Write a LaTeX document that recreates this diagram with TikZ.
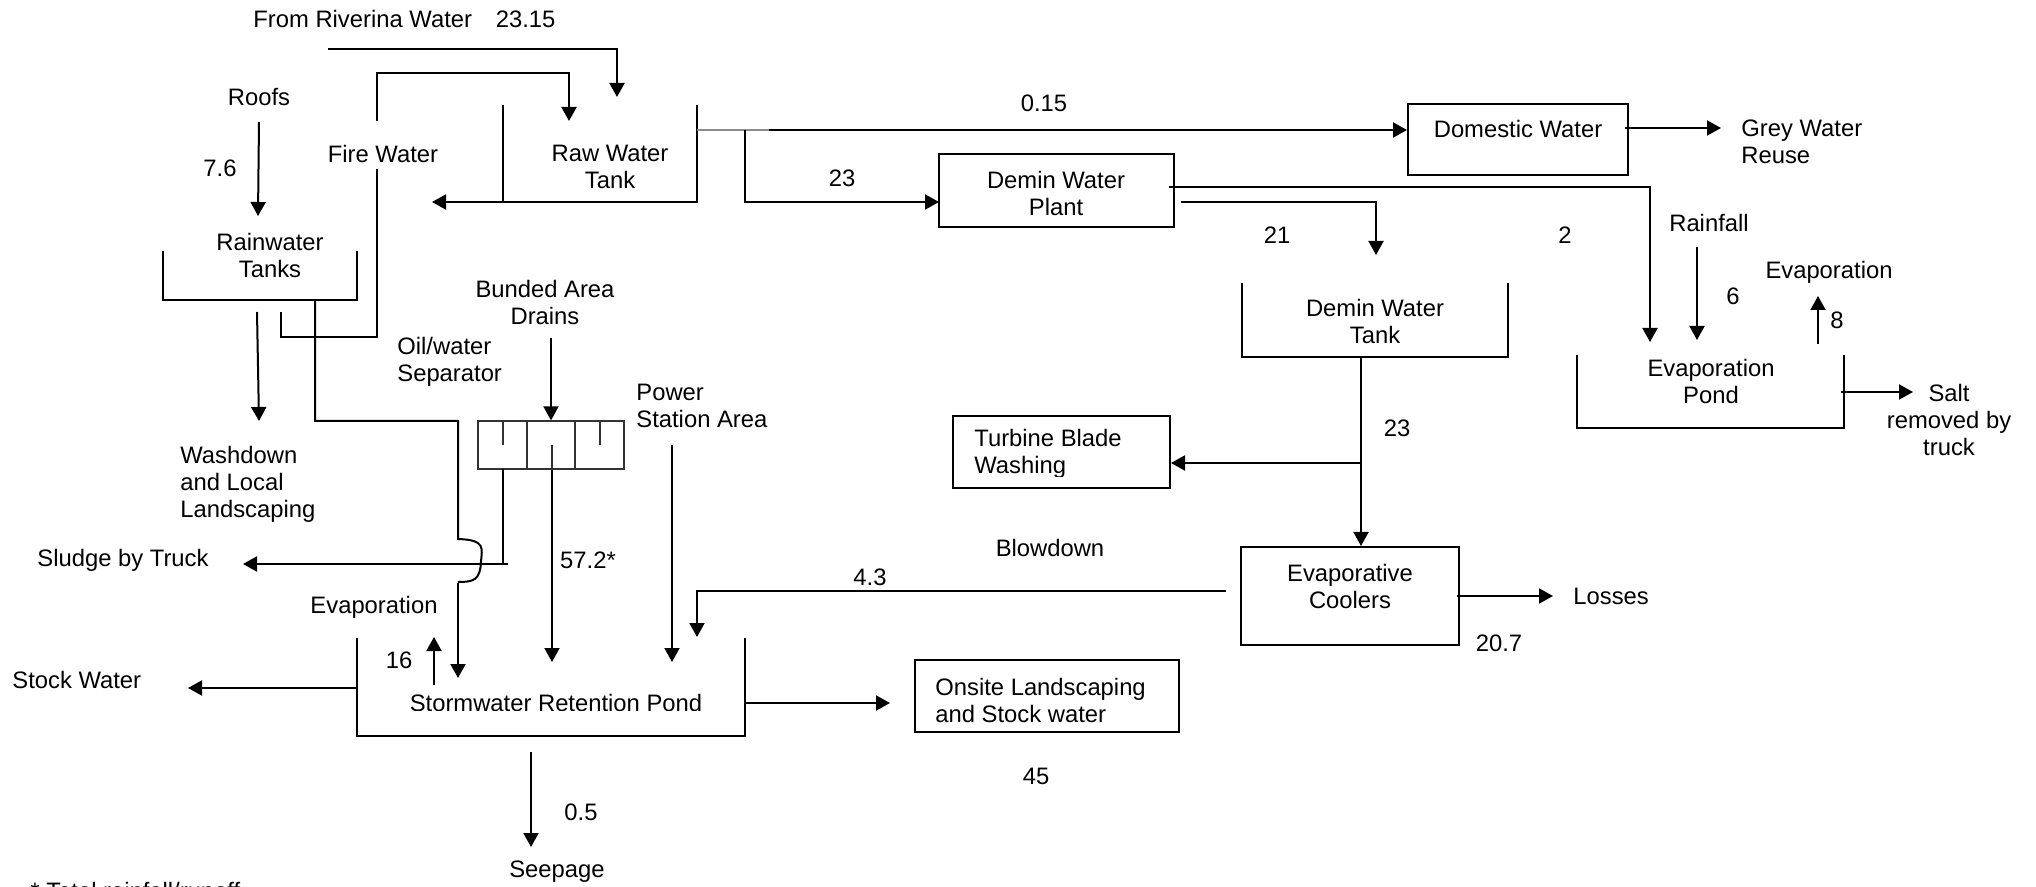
\documentclass[tikz,border=0pt]{standalone}
\usepackage{fontspec}
\setmainfont{Liberation Sans}
\usetikzlibrary{arrows.meta}
\begin{document}
\begin{tikzpicture}[x=0.5pt,y=-0.5pt,
  txt/.style={font=\fontsize{11.9}{13.5}\selectfont,inner sep=0pt,align=center},
  ltxt/.style={txt,align=left,anchor=west},
  box/.style={draw,line width=1pt,inner sep=0pt},
  flow/.style={line width=1pt,-{Triangle[length=7pt,width=7.5pt]}},
  pipe/.style={line width=1pt},
  sep/.style={line width=0.6pt,draw=black!80}]
\fill[white] (0,0) rectangle (2036,887);
\useasboundingbox (0,0) rectangle (2036,887);

% ---------- closed boxes ----------
\node[box,minimum width=110pt,minimum height=35.5pt] (dom) at (1518,139.5) {};
\node[box,minimum width=117.5pt,minimum height=36.5pt] (dplant) at (1056.5,190.5) {};
\node[box,minimum width=108.5pt,minimum height=36pt] (turb) at (1061.5,452) {};
\node[box,minimum width=109pt,minimum height=49pt] (cool) at (1350,596) {};
\node[box,minimum width=132pt,minimum height=36pt] (onsite) at (1047,696) {};
\node[sep,draw,minimum width=73pt,minimum height=24pt,inner sep=0pt] (ows) at (551,445) {};

% ---------- open tanks ----------
\coordinate (rawTL) at (503,105);  \coordinate (rawBL) at (503,202);
\coordinate (rawBR) at (697,202);  \coordinate (rawTR) at (697,105);
\draw[pipe] (rawTL) -- (rawBL) -- (rawBR) -- (rawTR);
\coordinate (rwTL) at (163,251);  \coordinate (rwBL) at (163,300);
\coordinate (rwBR) at (357,300);  \coordinate (rwTR) at (357,251);
\draw[pipe] (rwTL) -- (rwBL) -- (rwBR) -- (rwTR);
\coordinate (dtTL) at (1242,283); \coordinate (dtBL) at (1242,357);
\coordinate (dtBR) at (1508,357); \coordinate (dtTR) at (1508,283);
\draw[pipe] (dtTL) -- (dtBL) -- (dtBR) -- (dtTR);
\coordinate (epTL) at (1577,355); \coordinate (epBL) at (1577,428);
\coordinate (epBR) at (1844,428); \coordinate (epTR) at (1844,355);
\draw[pipe] (epTL) -- (epBL) -- (epBR) -- (epTR);
\coordinate (swTL) at (357,638); \coordinate (swBL) at (357,736);
\coordinate (swBR) at (745,736); \coordinate (swTR) at (745,638);
\draw[pipe] (swTL) -- (swBL) -- (swBR) -- (swTR);

% ---------- separator baffles ----------
\draw[sep] (527,421) -- (527,469);
\draw[sep] (575,421) -- (575,469);
\draw[sep] (503,421) -- (503,445);
\draw[sep] (600,421) -- (600,445);
\draw[sep] (552,445) -- (552,469);

% ---------- texts ----------
\node[ltxt] (riv) at (253,19) {From Riverina Water\quad 23.15};
\node[txt] (roofs) at (259,97) {Roofs};
\node[txt] (v76) at (220,168) {7.6};
\node[txt] (fire) at (383,154) {Fire Water};
\node[txt] (rawt) at (610,166.5) {Raw Water\\Tank};
\node[txt] (rwt) at (270,255) {Rainwater\\Tanks};
\node[txt] (bund) at (545,302.5) {Bunded Area\\Drains};
\node[ltxt] (owt) at (397,362) {Oil/water\\Separator};
\node[ltxt] (psa) at (636,405.5) {Power\\Station Area};
\node[ltxt] (wash) at (180,484.5) {Washdown\\and Local\\Landscaping};
\node[ltxt] (sludge) at (37,560) {Sludge by Truck};
\node[txt] (v572) at (588,560) {57.2*};
\node[txt] (evapA) at (374,607) {Evaporation};
\node[txt] (v16) at (399,660) {16};
\node[ltxt] (stock) at (12,680) {Stock Water};
\begin{scope}
\clip (360,640) rectangle (740,710);
\node[txt] (swt) at (556,703) {Stormwater Retention Pond};
\end{scope}
\node[txt] (v05) at (581,812) {0.5};
\node[txt] (seep) at (557,872) {Seepage};
\node[txt,anchor=north west] (note) at (30,882) {* Total rainfall/runoff};
\node[txt] (v015) at (1044,103) {0.15};
\node[txt] (v23a) at (842,178) {23};
\node[txt] (dplantt) at (1056,193) {Demin Water\\Plant};
\node[txt] (v21) at (1277,235) {21};
\node[txt] (v2) at (1565,235) {2};
\node[txt] (dtank) at (1375,321) {Demin Water\\Tank};
\node[txt] (v23b) at (1397,428) {23};
\begin{scope}
\clip (955,418) rectangle (1168,477);
\node[ltxt] (turbt) at (974,454) {Turbine Blade\\Washing};
\end{scope}
\node[txt] (blow) at (1050,548) {Blowdown};
\node[txt] (v43) at (870,577) {4.3};
\node[txt] (coolt) at (1350,586.5) {Evaporative\\Coolers};
\node[ltxt] (onsitet) at (935,700) {Onsite Landscaping\\and Stock water};
\node[txt] (v45) at (1036,776) {45};
\node[ltxt] (loss) at (1573,596) {Losses};
\node[txt] (v207) at (1499,643) {20.7};
\node[txt] (domt) at (1518,129) {Domestic Water};
\node[ltxt] (grey) at (1741,141.5) {Grey Water\\Reuse};
\node[txt] (rain) at (1709,223) {Rainfall};
\node[txt] (v6) at (1733,296) {6};
\node[txt] (evapB) at (1829,272) {Evaporation};
\node[txt] (v8) at (1837,320) {8};
\node[txt] (ept) at (1711,381.5) {Evaporation\\Pond};
\node[txt] (salt) at (1949,419.5) {Salt\\removed by\\truck};

% ---------- connectors ----------
% Riverina supply
\coordinate (rivS) at (328,49);
\coordinate (rivE) at (617,97);
\draw[flow] (rivS) -| (rivE);
% fire water loop
\coordinate (fireS) at (377,121);
\coordinate (fireE) at (569,121);
\draw[flow] (fireS) |- (569,73) -- (fireE);
% roofs
\coordinate (roofS) at (259,122);
\coordinate (roofE) at (258,216);
\draw[flow] (roofS) -- (roofE);
% raw tank outlet to the left
\coordinate (rawOut) at (432,202);
\draw[flow] (rawBL) -- (rawOut);
% raw tank to domestic (0.15)
\coordinate (rawR) at (697,130);
\coordinate (grayE) at (769,130);
\draw[line width=0.8pt,black!45] (rawR) -- (grayE);
\draw[flow] (grayE) -- (dom.west |- grayE);
% branch to demin plant (23)
\coordinate (brA) at (745,130);
\coordinate (brE) at (939,202);
\draw[flow] (brA) |- (brE);
% demin plant to evaporation pond (2)
\coordinate (p2S) at (1169,187);
\coordinate (p2E) at (1650,342);
\draw[flow] (p2S) -| (p2E);
% demin plant to demin tank (21)
\coordinate (p21S) at (1181,202);
\coordinate (p21E) at (1376,255);
\draw[flow] (p21S) -| (p21E);
% demin tank to coolers (23)
\coordinate (dtOut) at (1361,357);
\draw[flow] (dtOut) -- (dtOut |- cool.north);
% to turbine washing
\coordinate (tbJ) at (1361,463);
\draw[flow] (tbJ) -- (turb.east |- tbJ);
% losses
\coordinate (lossS) at (1457,596);
\coordinate (lossE) at (1553,596);
\draw[flow] (lossS) -- (lossE);
% grey water
\coordinate (greyS) at (1625,128);
\coordinate (greyE) at (1721,128);
\draw[flow] (greyS) -- (greyE);
% rainfall
\coordinate (rainS) at (1697,247);
\coordinate (rainE) at (1697,340);
\draw[flow] (rainS) -- (rainE);
% evaporation from pond
\coordinate (evBS) at (1818,344);
\coordinate (evBE) at (1818,296);
\draw[flow] (evBS) -- (evBE);
% salt
\coordinate (saltS) at (1841,392);
\coordinate (saltE) at (1913,392);
\draw[flow] (saltS) -- (saltE);
% blowdown
\coordinate (blS) at (1226,591);
\coordinate (blE) at (697,637);
\draw[flow] (blS) -| (blE);
% power station area
\coordinate (psS) at (672,445);
\coordinate (psE) at (672,662);
\draw[flow] (psS) -- (psE);
% separator outlet to pond
\coordinate (owE) at (552,662);
\draw[flow] (ows.south -| owE) -- (owE);
% bunded drains
\coordinate (bdS) at (551,338);
\draw[flow] (bdS) -- (ows.north);
% sludge
\coordinate (slA) at (503,469);
\coordinate (slB) at (503,564);
\coordinate (slE) at (243,564);
\draw[pipe] (slA) -- (slB);
\draw[flow] (508,564) -- (slE);
% rainwater tank overflow to pond with hop
\coordinate (ovS) at (315,300);
\coordinate (ovE) at (458,678);
\draw[pipe] (ovS) |- (458,421) -- (458,539)
  .. controls (486,540) and (482,548) .. (481,562)
  .. controls (480,580) and (474,582) .. (458,582);
\draw[flow] (458,583) -- (ovE);
% rainwater to fire water
\coordinate (fwS) at (281,312);
\coordinate (fwE) at (377,169);
\draw[pipe] (fwS) |- (377,337) -- (fwE);
% washdown
\coordinate (wdS) at (257,312);
\coordinate (wdE) at (259,421);
\draw[flow] (wdS) -- (wdE);
% stock water
\coordinate (stS) at (357,688);
\coordinate (stE) at (188,688);
\draw[flow] (stS) -- (stE);
% evaporation from stormwater pond
\coordinate (evAS) at (434,685);
\coordinate (evAE) at (434,637);
\draw[flow] (evAS) -- (evAE);
% onsite landscaping
\coordinate (onS) at (745,703);
\coordinate (onE) at (890,703);
\draw[flow] (onS) -- (onE);
% seepage
\coordinate (seS) at (531,752);
\coordinate (seE) at (531,847);
\draw[flow] (seS) -- (seE);
\end{tikzpicture}
\end{document}
